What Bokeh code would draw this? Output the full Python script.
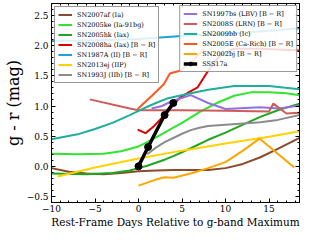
from bokeh.plotting import figure
from bokeh.models import (Range1d, LinearAxis, SingleIntervalTicker, Legend, LegendItem,
                          CustomJSTickFormatter)
from bokeh.embed import file_html
from bokeh.resources import INLINE

# ---- data (rest-frame days relative to g max, g - r colour) ----
sn2007af_x = [-10, -8, -6, -4, -2, 0, 2, 4, 6, 8, 10, 12, 14, 16, 18.5]
sn2007af_y = [-0.03, -0.09, -0.12, -0.13, -0.11, -0.08, -0.07, -0.06, -0.06, -0.06, -0.03, 0.04, 0.15, 0.29, 0.47]

sn2005ke_x = [-10, -7, -4, -2, 0, 1, 2, 3, 4, 5, 7, 9, 11, 13, 15, 17, 18.5]
sn2005ke_y = [0.21, 0.2, 0.21, 0.25, 0.33, 0.4, 0.48, 0.56, 0.64, 0.72, 0.9, 1.05, 1.17, 1.23, 1.23, 1.21, 1.18]

sn2005hk_x = [-10, -6, -3, -1, 0, 1, 2, 3, 4, 6, 8, 10, 12, 14, 16, 18.5]
sn2005hk_y = [-0.12, -0.13, -0.11, -0.07, -0.03, 0.01, 0.06, 0.11, 0.17, 0.3, 0.44, 0.56, 0.69, 0.82, 0.93, 1.04]

sn2008ha_x = [-0.1, 0.8, 1.8, 3.0, 4.7, 5.8, 6.8, 7.8, 8.6, 9.5, 11, 14, 18.5]
sn2008ha_y = [0.61, 0.55, 0.67, 0.85, 1.13, 1.23, 1.31, 1.54, 1.71, 1.85, 1.95, 1.95, 1.92]

sn1987a_x = [-10, -5, 0, 5, 10, 15, 18.5]
sn1987a_y = [2.08, 2.09, 2.11, 2.16, 2.2, 2.25, 2.29]

sn2013ej_x = [-9.3, -5, 0, 5, 10, 15, 18.5]
sn2013ej_y = [-0.17, -0.02, 0.13, 0.26, 0.38, 0.49, 0.58]

sn1993j_x = [1, 2, 3, 4, 5, 6, 7, 8, 10, 12, 14, 16, 18.5]
sn1993j_y = [0.2, 0.31, 0.4, 0.47, 0.54, 0.6, 0.64, 0.67, 0.69, 0.71, 0.73, 0.77, 0.85]

sn1997bs_x = [1.5, 2.7, 3.8, 6.0, 8.0, 10, 14, 16.2, 18.5]
sn1997bs_y = [0.96, 1.0, 1.08, 1.18, 1.05, 0.95, 0.98, 0.96, 1.01]

sn2008s_x = [-5.6, -1, 0, 5, 10, 15, 15.5, 17, 18.5]
sn2008s_y = [1.11, 0.96, 0.93, 0.93, 0.92, 0.91, 1.04, 0.875, 0.89]

sn2009bb_x = [-10, -7, -5, -3, -1, 0, 1.2, 2, 3.4, 5.6, 8, 10, 11, 15, 18.5]
sn2009bb_y = [0.45, 0.53, 0.62, 0.72, 0.85, 0.92, 1.0, 1.05, 1.13, 1.2, 1.27, 1.31, 1.33, 1.33, 1.28]

sn2005e_x = [-0.1, 1.6, 2.9, 3.6, 4.1, 4.9, 5.4, 6.2, 7.5]
sn2005e_y = [0.95, 1.18, 1.36, 1.54, 1.56, 1.59, 1.66, 1.74, 1.95]

sn2002bj_x = [0, 1, 2, 3, 4, 6, 8, 10, 12, 13.9, 16, 17.9]
sn2002bj_y = [-0.32, -0.27, -0.22, -0.18, -0.19, -0.12, -0.03, 0.07, 0.26, 0.46, 0.21, -0.02]

sss17a_x = [0.0, 1.1, 3.0, 4.0]
sss17a_y = [0.0, 0.32, 0.85, 1.05]

x_ticks_interval = 5
y_ticks_interval = 0.5

FONT = "DejaVu Serif"

p = figure(width=302, height=230, output_backend="svg", toolbar_location=None,
           x_range=Range1d(-10, 18.5), y_range=Range1d(-0.6, 2.7),
           min_border_left=48, min_border_right=3, min_border_top=3, min_border_bottom=0)
p.xgrid.visible = False
p.ygrid.visible = False
p.outline_line_color = "black"
p.outline_line_width = 1
p.background_fill_color = "white"

xt = SingleIntervalTicker(interval=x_ticks_interval, num_minor_ticks=5)
yt = SingleIntervalTicker(interval=y_ticks_interval, num_minor_ticks=5)

def style_axis(ax, ticker):
    ax.ticker = ticker
    ax.major_tick_in = 4
    ax.major_tick_out = 0
    ax.minor_tick_in = 2
    ax.minor_tick_out = 0
    ax.axis_line_color = "black"
    ax.major_tick_line_color = "black"
    ax.minor_tick_line_color = "black"
    ax.major_label_text_font = FONT
    ax.major_label_text_color = "black"
    ax.major_label_text_font_size = "9px"
    ax.axis_label_text_font = FONT
    ax.axis_label_text_font_style = "normal"
    ax.axis_label_text_color = "black"

style_axis(p.xaxis[0], xt)
style_axis(p.yaxis[0], yt)
p.xaxis[0].major_label_standoff = 2
p.yaxis[0].major_label_standoff = 3
p.xaxis[0].formatter = CustomJSTickFormatter(code="return (tick < 0 ? '\u2212' : '') + Math.abs(tick).toFixed(0)")
p.yaxis[0].formatter = CustomJSTickFormatter(code="return (tick < 0 ? '\u2212' : '') + Math.abs(tick).toFixed(1)")
p.xaxis[0].axis_label = "Rest-Frame Days Relative to g-band Maximum"
p.xaxis[0].axis_label_text_font_size = "10.5px"
p.xaxis[0].axis_label_standoff = 1
p.yaxis[0].axis_label = "g - r (mag)"
p.yaxis[0].axis_label_text_font_size = "16px"
p.yaxis[0].axis_label_standoff = 1

for side, tk in (("above", xt), ("right", yt)):
    ax = LinearAxis()
    style_axis(ax, tk)
    ax.major_label_text_font_size = "1px"
    ax.major_label_standoff = 0
    ax.formatter = CustomJSTickFormatter(code="return ''")
    p.add_layout(ax, side)

series = [
    ("SN2007af (Ia)", sn2007af_x, sn2007af_y, "#8b4a2b"),
    ("SN2005ke (Ia-91bg)", sn2005ke_x, sn2005ke_y, "#2ee62e"),
    ("SN2005hk (Iax)", sn2005hk_x, sn2005hk_y, "#1fa51f"),
    ("SN2008ha (Iax) [B − R]", sn2008ha_x, sn2008ha_y, "#e00000"),
    ("SN1987A (II) [B − R]", sn1987a_x, sn1987a_y, "#1ca3dc"),
    ("SN2013ej (IIP)", sn2013ej_x, sn2013ej_y, "#ffd200"),
    ("SN1993J (IIb) [B − R]", sn1993j_x, sn1993j_y, "#8c8c8c"),
    ("SN1997bs (LBV) [B − R]", sn1997bs_x, sn1997bs_y, "#9370db"),
    ("SN2008S (LRN) [B − R]", sn2008s_x, sn2008s_y, "#cd5c5c"),
    ("SN2009bb (Ic)", sn2009bb_x, sn2009bb_y, "#1fae9b"),
    ("SN2005E (Ca-Rich) [B − R]", sn2005e_x, sn2005e_y, "#ff5722"),
    ("SN2002bj [B − R]", sn2002bj_x, sn2002bj_y, "#ffa500"),
]

items = []
for label, xs, ys, col in series:
    r = p.line(xs, ys, line_color=col, line_width=2)
    items.append(LegendItem(label=label, renderers=[r]))

rl = p.line(sss17a_x, sss17a_y, line_color="black", line_width=3.5)
rs = p.scatter(sss17a_x, sss17a_y, size=7, fill_color="black", line_color="black")
items.append(LegendItem(label="SSS17a", renderers=[rl, rs]))

def make_legend(its, loc, margin):
    lg = Legend(items=its, location=loc)
    lg.margin = margin
    lg.padding = 3
    lg.spacing = 1
    lg.label_text_font = FONT
    lg.label_text_font_size = "6.5px"
    lg.label_text_color = "black"
    lg.label_height = 9
    lg.glyph_height = 9
    lg.glyph_width = 14
    lg.label_standoff = 5
    lg.border_line_color = "#333333"
    lg.border_line_width = 1
    lg.background_fill_alpha = 0.85
    return lg

p.add_layout(make_legend(items[:7], "top_left", 3))
p.add_layout(make_legend(items[7:], "top_right", 2))

open("out.html", "w").write(file_html(p, INLINE))
